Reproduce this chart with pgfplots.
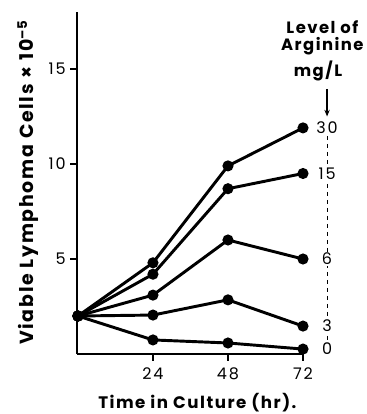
\documentclass[border=0pt]{standalone}
\usepackage{fontspec}
\setmainfont{Poppins}
\newfontfamily\labfont[LetterSpace=9]{Poppins}
\newfontfamily\tickfont[LetterSpace=12]{Poppins}
\usepackage{pgfplots}
\pgfplotsset{compat=1.18}
\usetikzlibrary{arrows.meta}
\begin{document}
\begin{tikzpicture}
\path[use as bounding box] (0,0) rectangle (275.25pt,-310.5pt);
\begin{axis}[
  at={(57.75pt,-265.5pt)}, anchor=south west,
  scale only axis, width=169.5pt, height=256.5pt,
  xmin=-0.3, xmax=72, ymin=0, ymax=18,
  axis lines=left, axis line style={-, line width=1pt},
  xtick={24,48,72}, ytick={5,10,15},
  tick align=outside, major tick length=5pt,
  tick style={line width=1pt, black},
  clip=false,
  /pgf/number format/assume math mode=true,
  ticklabel style={font=\tickfont\fontsize{12}{14}\selectfont},
  xticklabel style={yshift=-2pt},
]
\addplot[black, line width=2.2pt, mark=*, mark size=3pt] coordinates {(0,2.0) (24,4.8) (48,9.9) (72,11.9)};
\addplot[black, line width=2.2pt, mark=*, mark size=3pt] coordinates {(0,2.0) (24,4.2) (48,8.7) (72,9.5)};
\addplot[black, line width=2.2pt, mark=*, mark size=3pt] coordinates {(0,2.0) (24,3.1) (48,6.0) (72,5.0)};
\addplot[black, line width=2.2pt, mark=*, mark size=3pt] coordinates {(0,2.0) (24,2.05) (48,2.85) (72,1.47)};
\addplot[black, line width=2.2pt, mark=*, mark size=3pt] coordinates {(0,2.0) (24,0.74) (48,0.58) (72,0.26)};
\draw[dashed, line width=0.6pt] (axis cs:79.7,11.9) -- (axis cs:79.7,0.26);
\draw[-{Stealth[length=5pt,width=4pt]}, line width=1pt] (axis cs:79.7,13.95) -- (axis cs:79.7,12.5);
\begin{scope}[every node/.style={fill=white, inner sep=1pt, font=\tickfont\fontsize{12}{14}\selectfont}]
\node at (axis cs:79.7,11.9) {30};
\node at (axis cs:79.7,9.5) {15};
\node at (axis cs:79.7,5.0) {6};
\node at (axis cs:79.7,1.47) {3};
\node at (axis cs:79.7,0.26) {0};
\end{scope}
\begin{scope}[every node/.style={inner sep=0pt, font=\labfont\fontsize{12.3}{14.5}\selectfont\bfseries}]
\node at (axis cs:78.2,17.2) {Level of};
\node at (axis cs:78.2,16.2) {Arginine};
\node at (axis cs:76.8,14.9) {mg/L};
\end{scope}
\end{axis}
\node[rotate=90, font=\labfont\fontsize{14.2}{16}\selectfont\bfseries] at (21pt,-137pt) {Viable Lymphoma Cells × 10\raisebox{0.6ex}{\fontsize{10}{11}\selectfont –5}};
\node[font=\labfont\fontsize{12.5}{15}\selectfont\bfseries] at (148pt,-302pt) {Time in Culture (hr).};
\end{tikzpicture}
\end{document}
